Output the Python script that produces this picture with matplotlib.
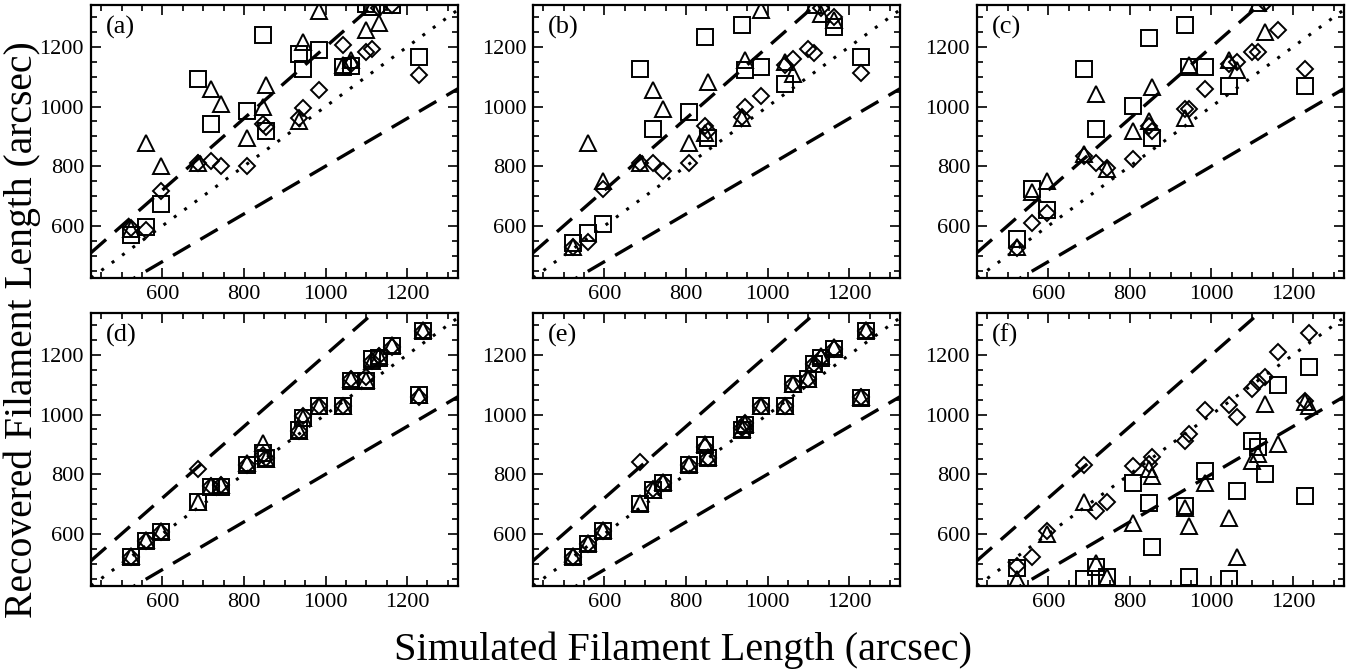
import numpy as np
import matplotlib
matplotlib.use('Agg')
import matplotlib.pyplot as plt
from matplotlib.ticker import MultipleLocator

nan = np.nan

# simulated filament lengths (arcsec), shared by all panels
sim = [522, 559, 596, 688, 718, 743, 808, 847, 853, 936,
       944, 984, 1043, 1063, 1100, 1114, 1131, 1162, 1230, 1240]

# recovered lengths, one row per panel: diamonds, triangles, squares
a_dia = [592, 587, 716, 810, 817, 800, 800, 941, 930, 960, 994, 1054, 1206, 1144, 1183, 1194, 1330, 1340, 1106, nan]
a_tri = [590, 879, 800, 812, 1059, 1009, 896, 997, 1073, 952, 1217, 1320, 1138, 1155, 1256, 1335, 1279, nan, nan, nan]
a_sq = [570, 595, 674, 1093, 941, nan, 986, 1241, 918, 1177, 1127, 1189, 1132, 1135, 1345, 1335, nan, 1340, 1166, nan]

b_dia = [530, 547, 722, 812, 812, 783, 812, 935, 918, 964, 997, 1037, 1140, 1160, 1194, 1181, 1330, 1301, 1113, nan]
b_tri = [530, 879, 750, 812, 1054, 992, 879, 910, 1082, 960, 1155, 1324, 1149, 1110, nan, 1340, 1312, 1290, nan, nan]
b_sq = [541, 575, 607, 1127, 926, nan, 983, 1234, 893, 1275, 1121, 1132, 1076, nan, nan, nan, nan, 1267, 1166, nan]

c_dia = [525, 609, 643, 835, 812, 795, 825, 935, 918, 992, 992, 1059, 1144, 1149, 1183, 1183, 1346, 1256, 1127, nan]
c_tri = [530, 713, 750, 840, 1042, 789, 918, 952, 1065, 963, 1138, nan, 1155, 1121, nan, 1346, 1250, nan, nan, nan]
c_sq = [555, 724, 652, 1127, 924, nan, 1003, 1230, 896, 1273, 1132, 1132, 1068, nan, nan, nan, nan, nan, 1068, nan]

d_dia = [521, 575, 605, 816, 760, 765, 830, 865, 855, 945, 995, 1028, 1030, 1118, 1125, 1178, 1195, 1225, 1060, 1280]
d_tri = [525, 580, 610, 707, 760, 765, 836, 904, 850, 945, 990, 1030, 1030, 1118, 1115, 1180, 1195, 1232, 1065, 1283]
d_sq = [521, 577, 606, 707, 758, 758, 831, 870, 853, 949, 988, 1028, 1028, 1112, 1112, 1185, 1191, 1230, 1064, 1281]

e_dia = [521, 566, 609, 842, 750, 771, 830, 890, 855, 955, 970, 1030, 1030, 1101, 1120, 1170, 1190, 1221, 1058, 1281]
e_tri = [525, 570, 612, 703, 748, 775, 833, 902, 858, 950, 968, 1030, 1030, 1103, 1120, 1170, 1195, 1225, 1058, 1283]
e_sq = [521, 566, 609, 701, 746, 771, 831, 898, 853, 949, 966, 1028, 1028, 1101, 1118, 1168, 1191, 1221, 1056, 1281]

f_dia = [492, 521, 608, 830, 676, 706, 828, 835, 856, 910, 935, 1014, 1031, 991, 1087, 1109, 1126, 1211, 1047, 1273]
f_tri = [450, nan, 600, 706, 501, 456, 636, 816, 794, 687, 625, 771, 653, 523, 845, 867, 1036, 901, 1042, 1030]
f_sq = [484, nan, nan, 450, 490, 456, 771, 704, 557, 693, 456, 811, 450, 743, 912, 890, 800, 1098, 726, 1160]

panels = [('(a)', a_dia, a_tri, a_sq), ('(b)', b_dia, b_tri, b_sq), ('(c)', c_dia, c_tri, c_sq),
          ('(d)', d_dia, d_tri, d_sq), ('(e)', e_dia, e_tri, e_sq), ('(f)', f_dia, f_tri, f_sq)]

plt.rcParams['font.family'] = ['Liberation Serif', 'DejaVu Serif']

fig = plt.figure(figsize=(13.67, 6.72), dpi=100)
lefts = [0.0666, 0.390, 0.7147]
bottoms = [0.5863, 0.128]
w, h = 0.2685, 0.406

xmin, xmax = 425, 1325
ymin, ymax = 425, 1340
xx = np.array([xmin, xmax])

for i, (lab, dia, tri, sq) in enumerate(panels):
    ax = fig.add_axes([lefts[i % 3], bottoms[i // 3], w, h])
    ax.plot(xx, xx, color='k', linestyle=(0, (1, 3.2)), lw=2.2)
    ax.plot(xx, 1.2 * xx, color='k', linestyle=(0, (6, 3.5)), lw=2.4)
    ax.plot(xx, 0.8 * xx, color='k', linestyle=(0, (6, 3.5)), lw=2.4)
    ax.plot(sim, dia, 'D', ms=8, mfc='none', mec='k', mew=1.4, ls='none')
    ax.plot(sim, tri, '^', ms=12, mfc='none', mec='k', mew=1.4, ls='none')
    ax.plot(sim, sq, 's', ms=11, mfc='none', mec='k', mew=1.4, ls='none')
    ax.set_xlim(xmin, xmax)
    ax.set_ylim(ymin, ymax)
    ax.set_xticks([600, 800, 1000, 1200])
    ax.set_yticks([600, 800, 1000, 1200])
    ax.xaxis.set_minor_locator(MultipleLocator(50))
    ax.yaxis.set_minor_locator(MultipleLocator(50))
    ax.tick_params(which='both', direction='in', top=True, right=True, labelsize=16, width=1.2)
    ax.tick_params(which='major', length=7, pad=5)
    ax.tick_params(which='minor', length=4)
    for sp in ax.spines.values():
        sp.set_linewidth(1.6)
    ax.text(0.04, 0.92, lab, transform=ax.transAxes, fontsize=19, va='center', ha='left')

fig.text(0.5, 0.033, 'Simulated Filament Length (arcsec)', ha='center', va='center', fontsize=29)
fig.text(0.016, 0.509, 'Recovered Filament Length (arcsec)', ha='center', va='center',
         rotation=90, fontsize=28.5)

fig.savefig('out.png', dpi=100)
